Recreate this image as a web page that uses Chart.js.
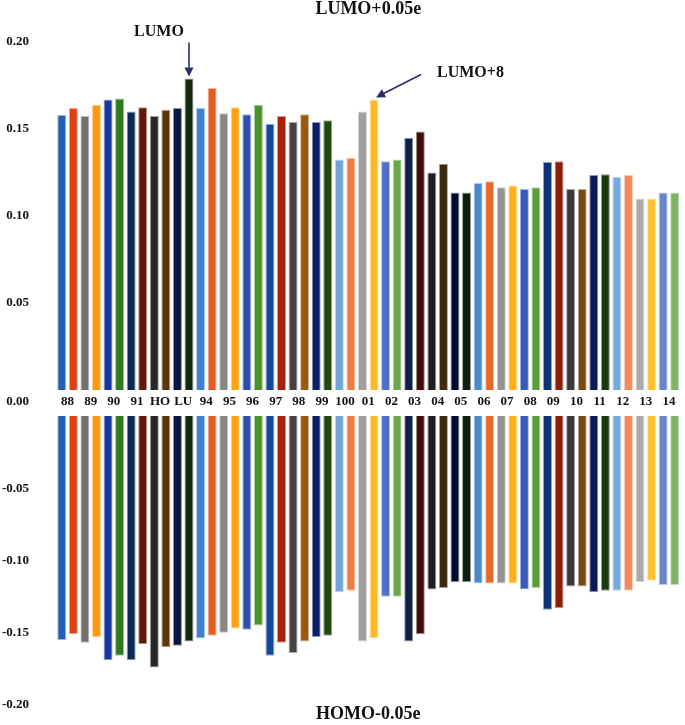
<!DOCTYPE html>
<html>
<head>
<meta charset="utf-8">
<script src="https://cdn.jsdelivr.net/npm/chart.js@4/dist/chart.umd.min.js"></script>
<style>
  html, body { margin: 0; padding: 0; background: #fff; overflow: hidden; }
  canvas { display: block; position: absolute; left: 0; }
  #lumoChart { top: 0; }
  #homoChart { top: 410px; }
</style>
</head>
<body>
<canvas id="lumoChart" width="685" height="410"></canvas>
<canvas id="homoChart" width="685" height="315"></canvas>
<script>
// orbital labels, two bars per orbital
const orbitals = ["88", "89", "90", "91", "HO", "LU", "94", "95", "96", "97", "98", "99", "100",
  "01", "02", "03", "04", "05", "06", "07", "08", "09", "10", "11", "12", "13", "14"];

const lumoLeft = [0.158, 0.1575, 0.167, 0.160, 0.1575, 0.162, 0.162, 0.159, 0.1585, 0.153, 0.154, 0.154, 0.1325,
  0.160, 0.1315, 0.145, 0.125, 0.1135, 0.119, 0.1165, 0.1155, 0.131, 0.1155, 0.1235, 0.1225, 0.110, 0.1135];
const lumoRight = [0.162, 0.164, 0.1675, 0.1625, 0.161, 0.179, 0.1735, 0.1625, 0.164, 0.1575, 0.1585, 0.155, 0.1335,
  0.167, 0.1325, 0.1485, 0.130, 0.1135, 0.120, 0.1175, 0.1165, 0.1315, 0.1155, 0.124, 0.1235, 0.110, 0.1135];

const homoLeft = [-0.155, -0.157, -0.169, -0.169, -0.174, -0.159, -0.154, -0.150, -0.148, -0.166, -0.164, -0.153, -0.122,
  -0.156, -0.125, -0.156, -0.120, -0.115, -0.116, -0.116, -0.120, -0.134, -0.118, -0.122, -0.121, -0.115, -0.117];
const homoRight = [-0.151, -0.153, -0.166, -0.158, -0.160, -0.156, -0.152, -0.147, -0.145, -0.157, -0.156, -0.152, -0.121,
  -0.154, -0.125, -0.151, -0.119, -0.115, -0.116, -0.116, -0.119, -0.133, -0.118, -0.121, -0.121, -0.114, -0.117];

const lumoTicks = [0.05, 0.10, 0.15, 0.20];
const homoTicks = [-0.20, -0.15, -0.10, -0.05];

// one colour per bar, left to right (the Excel "vary colours" cycle)
const barColors = [
  "#2060b8", "#e04010", "#707070", "#ff9a10", "#1838a0", "#2e7a1e", "#0c2a58", "#601808", "#282828",
  "#5e3408", "#0a1640", "#12280c", "#3f82cc", "#e65a24", "#888888", "#ffa20c", "#2f4fb0", "#4c922c",
  "#1448a0", "#a82008", "#444444", "#985a10", "#0c1e68", "#1e4a10", "#70a4dc", "#ec7e44", "#a0a0a0",
  "#ffba2a", "#4d70c8", "#6aa84c", "#0e1e44", "#401008", "#1e1e1e", "#3e2a0e", "#000a2e", "#0a2010",
  "#4a88d0", "#e8682c", "#939393", "#ffae1c", "#3a5cb8", "#5a9e3a", "#0c3278", "#8a1e08", "#3a3a3a",
  "#7a4812", "#0c1a58", "#183c0c", "#74aade", "#f08c5c", "#aaaaaa", "#ffc030", "#6686cc", "#7cb464"
];

const leftColors = barColors.filter((c, i) => i % 2 === 0);
const rightColors = barColors.filter((c, i) => i % 2 === 1);

function lighten(hex) {
  const n = parseInt(hex.slice(1), 16);
  const r = (n >> 16) & 255, g = (n >> 8) & 255, b = n & 255;
  const mix = v => Math.round(v + (255 - v) * 0.55);
  return "rgb(" + mix(r) + "," + mix(g) + "," + mix(b) + ")";
}

const serif = "'Liberation Serif', 'Times New Roman', serif";
const tickFont = { family: serif, size: 13, weight: "bold" };
const AXIS_W = 56;

function makeDatasets(left, right) {
  return [
    { data: left, backgroundColor: leftColors, borderColor: leftColors.map(lighten), borderWidth: 1,
      barPercentage: 0.78, categoryPercentage: 1.0 },
    { data: right, backgroundColor: rightColors, borderColor: rightColors.map(lighten), borderWidth: 1,
      barPercentage: 0.78, categoryPercentage: 1.0 }
  ];
}

function yScale(min, max, shown, padTop) {
  return {
    min: min, max: max,
    grid: { display: false, drawTicks: false },
    border: { display: false },
    afterBuildTicks: s => { s.ticks = shown.map(v => ({ value: v })); },
    // fixed axis width; keep the big label gap from pushing the plot inward
    afterFit: s => { s.width = AXIS_W; s.paddingTop = padTop; s.paddingBottom = 8; },
    ticks: {
      font: tickFont, color: "#111", padding: 27,
      callback: v => v.toFixed(2)
    }
  };
}

// arrows + "0.00" label on the upper panel
const arrowColor = "#2b2b6e";
function arrow(ctx, x1, y1, x2, y2) {
  const a = Math.atan2(y2 - y1, x2 - x1);
  const hl = 9, hw = 4.5;
  ctx.save();
  ctx.strokeStyle = arrowColor;
  ctx.fillStyle = arrowColor;
  ctx.lineWidth = 1.6;
  ctx.beginPath();
  ctx.moveTo(x1, y1);
  ctx.lineTo(x2 - Math.cos(a) * hl, y2 - Math.sin(a) * hl);
  ctx.stroke();
  ctx.beginPath();
  ctx.moveTo(x2, y2);
  ctx.lineTo(x2 - Math.cos(a) * hl - Math.sin(a) * hw, y2 - Math.sin(a) * hl + Math.cos(a) * hw);
  ctx.lineTo(x2 - Math.cos(a) * hl + Math.sin(a) * hw, y2 - Math.sin(a) * hl - Math.cos(a) * hw);
  ctx.closePath();
  ctx.fill();
  ctx.restore();
}

const notes = {
  id: "notes",
  afterDatasetsDraw(chart) {
    const ctx = chart.ctx;
    const meta = chart.getDatasetMeta(1);
    const lu = meta.data[orbitals.indexOf("LU")];
    const l8 = meta.data[orbitals.indexOf("01")];
    ctx.save();
    ctx.font = "bold 16px " + serif;
    ctx.fillStyle = "#111";
    ctx.textBaseline = "middle";
    ctx.textAlign = "center";
    ctx.fillText("LUMO", lu.x - 30, lu.y - 47);
    arrow(ctx, lu.x, lu.y - 36, lu.x, lu.y - 2);
    ctx.textAlign = "left";
    ctx.fillText("LUMO+8", l8.x + 63, l8.y - 27);
    arrow(ctx, l8.x + 47, l8.y - 25, l8.x + 2, l8.y - 2);
    // zero label sits between the two panels
    ctx.font = "bold 13px " + serif;
    ctx.textAlign = "right";
    ctx.fillText("0.00", chart.chartArea.left - 27, chart.chartArea.bottom + 12);
    ctx.restore();
  }
};

new Chart(document.getElementById("lumoChart"), {
  type: "bar",
  data: { labels: orbitals, datasets: makeDatasets(lumoLeft, lumoRight) },
  options: {
    responsive: false, animation: false,
    layout: { padding: { left: 0, right: 4.5, top: 0, bottom: 0 } },
    plugins: {
      legend: { display: false }, tooltip: { enabled: false },
      title: { display: true, text: "LUMO+0.05e", fullSize: false, color: "#111",
        font: { family: serif, size: 18, weight: "bold", lineHeight: 1 }, padding: { top: 0, bottom: 24 } }
    },
    scales: {
      x: {
        grid: { display: false, drawTicks: false }, border: { display: false },
        afterFit: s => { s.height = 20; },
        ticks: { font: tickFont, color: "#111", padding: 4, maxRotation: 0, autoSkip: false }
      },
      y: yScale(0, 0.2, lumoTicks, 8)
    }
  },
  plugins: [notes]
});

new Chart(document.getElementById("homoChart"), {
  type: "bar",
  data: { labels: orbitals, datasets: makeDatasets(homoLeft, homoRight) },
  options: {
    responsive: false, animation: false,
    layout: { padding: { left: 0, right: 4.5, top: 6, bottom: 0 } },
    plugins: {
      legend: { display: false }, tooltip: { enabled: false },
      title: { display: true, position: "bottom", text: "HOMO-0.05e", fullSize: false, color: "#111",
        font: { family: serif, size: 18, weight: "bold", lineHeight: 1 }, padding: { top: 0, bottom: 2 } }
    },
    scales: {
      x: { display: false },
      y: yScale(-0.2, 0, homoTicks, 0)
    }
  }
});
</script>
</body>
</html>
